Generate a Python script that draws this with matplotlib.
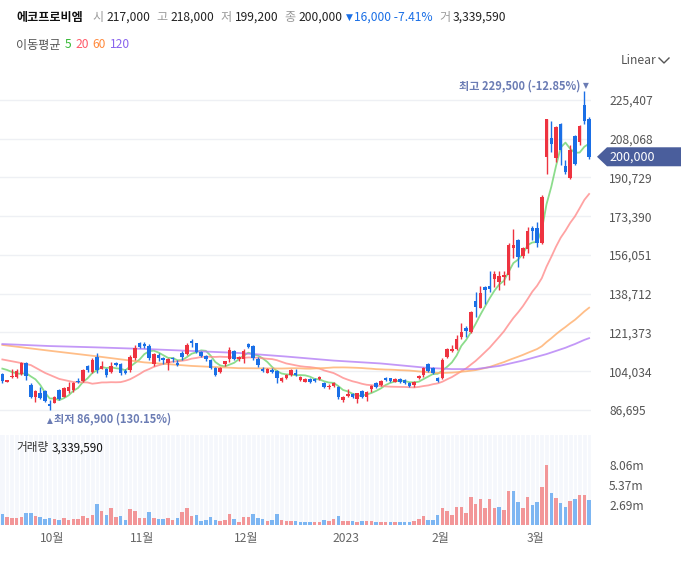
import numpy as np
import pandas as pd
import matplotlib
matplotlib.use("Agg")
import matplotlib.pyplot as plt
from matplotlib.patches import Polygon
from matplotlib.lines import Line2D

plt.rcParams['font.family'] = ['Noto Sans CJK KR', 'DejaVu Sans']

## Data (daily candles)
NAME = "에코프로비엠"

opens = [
    102700, 99400, 101300, 101600, 102800, 107600, 97900, 92600, 94400, 95200,
    89200, 90000, 95600, 92600, 95200, 95600, 99800, 99800, 106400, 103800,
    110300, 105200, 104900, 103800, 107900, 107100, 104300, 104600, 109800, 116500,
    116200, 115300, 107100, 111300, 109800, 107900, 109900, 107600, 112100, 111800,
    117600, 116500, 112600, 111000, 109100, 105300, 103800, 107100, 109400, 113100,
    109400, 109400, 116200, 115300, 109700, 105000, 103400, 104600, 104300, 99800,
    101100, 102300, 103400, 100100, 99400, 100600, 100500, 100400, 98900, 96800,
    97400, 97100, 91200, 93000, 93700, 91500, 95300, 92400, 95900, 98900,
    97900, 100900, 100900, 99400, 100600, 100100, 98900, 97900, 100900, 102300,
    107300, 105300, 100900, 101100, 110500, 113200, 114000, 119200, 123500, 121700,
    135500, 132500, 141900, 142200, 145200, 144100, 146200, 147100, 159300, 162800,
    155400, 158700, 168100, 168100, 161300, 199800, 208300, 199300, 214700, 195900,
    190400, 209300, 206500, 223200, 217000,
]
highs = [
    103400, 100300, 104900, 104900, 108300, 108000, 98600, 95600, 97100, 95600,
    91200, 93000, 96100, 96800, 99100, 99100, 100900, 105000, 107000, 109800,
    112100, 108800, 105300, 108300, 108300, 107900, 104900, 111300, 115800, 117200,
    117200, 116200, 112300, 112300, 110500, 109800, 110300, 109100, 113100, 116500,
    118500, 116800, 113300, 111300, 109400, 105800, 105800, 108800, 114700, 113500,
    110900, 113900, 116800, 115800, 110400, 105800, 105500, 105300, 104600, 101600,
    102700, 105000, 104900, 101900, 100800, 101200, 101200, 101900, 99400, 98200,
    99100, 97400, 93000, 95900, 94300, 94400, 95600, 95200, 97900, 99400,
    100100, 101300, 101200, 100900, 101000, 100600, 99400, 99800, 102300, 105800,
    107600, 106100, 101600, 109800, 114300, 115800, 120200, 125800, 124300, 131100,
    139400, 142200, 142200, 148900, 149000, 149000, 149000, 161300, 167700, 163100,
    159800, 168700, 169000, 170800, 182900, 217100, 216000, 213600, 215300, 198600,
    205300, 209800, 214000, 229500, 218000,
]
lows = [
    98900, 99200, 100900, 100900, 102300, 100100, 91900, 90400, 91500, 90400,
    86900, 89700, 91200, 92300, 94200, 94900, 98600, 99400, 103800, 103100,
    103100, 104900, 101600, 103400, 106500, 102300, 102800, 103800, 109100, 114300,
    114600, 109100, 106500, 108800, 107300, 104600, 108200, 106400, 109100, 111300,
    115000, 112300, 110400, 108800, 104900, 101900, 103100, 106400, 108300, 109100,
    108800, 107600, 114300, 109100, 106100, 103800, 103100, 103100, 98900, 99400,
    100400, 102000, 101900, 99700, 99000, 98900, 99000, 100100, 96700, 96100,
    96800, 91500, 90400, 92600, 91900, 90000, 92200, 90900, 94900, 96400,
    97600, 99700, 99400, 99100, 98900, 98200, 97100, 97100, 100400, 101300,
    103800, 102700, 99400, 100600, 110100, 112500, 113500, 118300, 119500, 121300,
    128400, 132200, 134100, 139400, 141600, 140400, 142600, 144900, 154600, 150500,
    154600, 156900, 162800, 159600, 160800, 192200, 202300, 197800, 196300, 192200,
    189900, 196300, 205300, 214500, 199200,
]
closes = [
    99700, 100100, 102000, 104300, 107900, 101900, 92600, 95300, 91900, 90900,
    88500, 92500, 91600, 96400, 97100, 98600, 99100, 104600, 104800, 109100,
    104600, 106500, 102300, 106400, 107000, 103400, 103200, 110500, 114300, 115000,
    115300, 109800, 111800, 110100, 109100, 109300, 109500, 106700, 110500, 115800,
    116800, 112800, 111000, 109400, 105300, 102300, 105300, 108500, 113500, 109500,
    110500, 113200, 115000, 109800, 106800, 104300, 105000, 103800, 100900, 101100,
    102300, 104600, 102300, 101300, 100400, 99400, 99500, 101300, 97100, 97600,
    98600, 92400, 92500, 93900, 92400, 94200, 92600, 94900, 97400, 97100,
    99800, 100100, 99800, 100400, 99400, 98600, 97400, 99400, 101900, 105300,
    104300, 103100, 99800, 109100, 113900, 114000, 118500, 121500, 122200, 130700,
    132900, 138900, 140400, 140800, 147500, 146700, 147100, 160500, 160400, 155300,
    159100, 166900, 166600, 161400, 182100, 216800, 205600, 213200, 203000, 193100,
    203000, 196600, 213800, 216000, 200000,
]
volumes = [
    1430000, 1080000, 940000, 940000, 1080000, 1610000, 1610000, 1210000, 1080000, 810000,
    940000, 810000, 670000, 940000, 670000, 810000, 810000, 1210000, 940000, 1340000,
    2820000, 1880000, 1340000, 2280000, 1080000, 1210000, 670000, 2150000, 1880000, 940000,
    940000, 1750000, 940000, 810000, 810000, 940000, 670000, 940000, 1750000, 2280000,
    1210000, 1340000, 540000, 670000, 1080000, 670000, 540000, 670000, 1480000, 810000,
    400000, 1080000, 1080000, 1480000, 940000, 810000, 540000, 670000, 1480000, 670000,
    540000, 540000, 540000, 400000, 450000, 400000, 400000, 400000, 720000, 550000,
    850000, 1250000, 500000, 600000, 550000, 450000, 500000, 500000, 550000, 450000,
    450000, 400000, 400000, 400000, 400000, 400000, 450000, 500000, 750000, 1160000,
    720000, 630000, 1300000, 2240000, 1840000, 1390000, 2370000, 2370000, 1570000, 3810000,
    2780000, 3450000, 2240000, 3450000, 2240000, 2460000, 1970000, 4520000, 4520000, 3090000,
    2240000, 3720000, 2640000, 3050000, 5060000, 8060000, 4350000, 3580000, 2910000, 2370000,
    3270000, 3450000, 3990000, 3990000, 3339590,
]

# first trading day of each month shown on the axis
month_start = [10, 29, 51, 72, 92, 112]
month_labels = ["10월", "11월", "12월", "2023", "2월", "3월"]

price_ticks = [86695, 104034, 121373, 138712, 156051, 173390, 190729, 208068, 225407]

# moving-average values before the window is full
ma5_head_idx = [0, 1, 2, 3]
ma5_head = [105200, 104600, 103700, 103100]
ma20_head_idx = [0, 3, 6, 9, 12, 15, 18]
ma20_head = [109300, 108100, 106800, 103300, 100600, 99200, 99000]
ma60_head_idx = [0, 10, 20, 30, 40, 50]
ma60_head = [115800, 113200, 110700, 108000, 106400, 105400]
ma120_head_idx = [0, 10, 20, 30, 40, 50, 60, 70, 80, 90, 95, 100, 105, 110, 115]
ma120_head = [116200, 115300, 114700, 114000, 113100, 112200, 110600, 108800,
              107500, 105500, 105000, 105000, 106400, 108800, 111700]

## Styles
UP, DOWN = '#ee3340', '#1a6fe6'
VOL_UP, VOL_DOWN = '#f29698', '#7db6f2'
MARK = '#6b7cb4'
MA_STYLE = [(5, '#6fd46f', '#35b935'), (20, '#ff8c8c', '#ff5a6a'),
            (60, '#ffae6b', '#ff8a3d'), (120, '#b47ff6', '#8a64ee')]

W, H = 688, 570
n = len(closes)
idx = np.arange(n)
close_s = pd.Series(closes, dtype=float)


def px_box(left, top, right, bottom):
    return [left / W, 1 - bottom / H, (right - left) / W, (bottom - top) / H]


def moving_average(window, head_idx, head_val):
    full = close_s.rolling(window).mean()
    xs = list(head_idx) + list(range(window - 1, n))
    ys = list(head_val) + list(full.iloc[window - 1:])
    return xs, ys


fig = plt.figure(figsize=(W / 100, H / 100), dpi=100)
ax = fig.add_axes(px_box(0, 68, 591, 430))
axv = fig.add_axes(px_box(0, 435, 591, 525), sharex=ax)

# -------- price panel --------
heads = {5: (ma5_head_idx, ma5_head), 20: (ma20_head_idx, ma20_head),
         60: (ma60_head_idx, ma60_head), 120: (ma120_head_idx, ma120_head)}
for window, line_color, _ in MA_STYLE:
    xs, ys = moving_average(window, *heads[window])
    ax.plot(xs, ys, color=line_color, lw=1.3, alpha=0.8, zorder=2)

o = np.array(opens)
c = np.array(closes)
up = c >= o
colors = np.where(up, UP, DOWN)
ax.vlines(idx, lows, highs, colors=colors, lw=1, zorder=3)
body_low = np.minimum(o, c)
body_h = np.maximum(np.abs(c - o), 450)
ax.bar(idx, body_h, bottom=body_low, width=0.74, color=colors, zorder=4)

ax.set_xlim(-0.5, n - 0.6)
ax.set_ylim(77732, 239727)
ax.yaxis.tick_right()
ax.set_yticks(price_ticks)
ax.set_yticklabels([f"{v:,}" for v in price_ticks])
ax.tick_params(axis='y', length=0, pad=13, labelsize=8.7, labelcolor='#555555')
ax.tick_params(axis='x', bottom=False, labelbottom=False)
ax.grid(axis='y', color='#eef0f4', lw=1)
ax.set_axisbelow(True)
for s in ax.spines.values():
    s.set_visible(False)

# high / low markers (small triangles drawn in DejaVu)
hi_i = int(np.argmax(highs))
lo_i = int(np.argmin(lows))
last = closes[-1]
ax.annotate("▼", xy=(hi_i, highs[hi_i]), xytext=(0.8, 0.5), textcoords='offset points',
            ha='center', va='bottom', fontsize=5.5, color=MARK, family='DejaVu Sans')
ax.annotate(f"최고 {highs[hi_i]:,} ({(last / highs[hi_i] - 1) * 100:.2f}%)",
            xy=(hi_i, highs[hi_i]), xytext=(-2.5, -1), textcoords='offset points',
            ha='right', va='bottom', fontsize=8, color=MARK, fontweight='bold')
ax.annotate("▲", xy=(lo_i, lows[lo_i]), xytext=(0, -4.5), textcoords='offset points',
            ha='center', va='top', fontsize=5.5, color=MARK, family='DejaVu Sans')
ax.annotate(f"최저 {lows[lo_i]:,} ({(last / lows[lo_i] - 1) * 100:.2f}%)",
            xy=(lo_i, lows[lo_i]), xytext=(2.8, -2.2), textcoords='offset points',
            ha='left', va='top', fontsize=8, color=MARK, fontweight='bold')

# -------- volume panel --------
prev = np.r_[closes[0], closes[:-1]]
vol_up = np.where(idx == 0, up, c >= prev)
axv.set_facecolor('#f5f7fc')
for i in range(n):
    axv.axvline(i + 0.5, color='white', lw=0.9, zorder=1)
axv.bar(idx, volumes, width=0.74, color=np.where(vol_up, VOL_UP, VOL_DOWN), zorder=2)
vmax = max(volumes)
axv.set_ylim(0, vmax * 1.5)
vt = [vmax / 3, vmax * 2 / 3, vmax]
axv.yaxis.tick_right()
axv.set_yticks(vt)
axv.set_yticklabels([f"{v / 1e6:.2f}m" for v in vt])
axv.tick_params(axis='y', length=0, pad=13, labelsize=8.7, labelcolor='#555555')
axv.set_xticks([m + 0.6 for m in month_start])
axv.set_xticklabels(month_labels)
axv.tick_params(axis='x', length=0, pad=5, labelsize=8.7, labelcolor='#666666')
for s in axv.spines.values():
    s.set_visible(False)

# -------- header texts --------
renderer = fig.canvas.get_renderer()


def draw_run(x, y, pieces, size=8.7):
    for text, color, weight, gap, *extra in pieces:
        kw = extra[0] if extra else {}
        kw.setdefault('fontsize', size)
        t = fig.text(x / W, 1 - y / H, text, color=color, fontweight=weight,
                     ha='left', va='center', **kw)
        x = t.get_window_extent(renderer=renderer).x1 + gap


change = closes[-1] - closes[-2]
pct = change / closes[-2] * 100
arrow = '▼' if change < 0 else '▲'
chg_color = DOWN if change < 0 else UP
draw_run(16, 17, [
    (NAME, '#111111', 'bold', 10),
    ('시', '#9a9a9a', 'normal', 3), (f"{opens[-1]:,}", '#222222', 'normal', 6),
    ('고', '#9a9a9a', 'normal', 3), (f"{highs[-1]:,}", '#222222', 'normal', 6),
    ('저', '#9a9a9a', 'normal', 3), (f"{lows[-1]:,}", '#222222', 'normal', 6),
    ('종', '#9a9a9a', 'normal', 3), (f"{closes[-1]:,}", '#222222', 'normal', 3),
    (arrow, chg_color, 'normal', 2, {'fontsize': 6.5, 'family': 'DejaVu Sans'}),
    (f"{abs(change):,} {pct:.2f}%", chg_color, 'normal', 6),
    ('거', '#9a9a9a', 'normal', 3), (f"{volumes[-1]:,}", '#222222', 'normal', 0),
])
draw_run(16, 45, [('이동평균', '#555555', 'normal', 4)] +
         [(str(w), tc, 'normal', 4) for w, _, tc in MA_STYLE])
draw_run(16, 448, [('거래량', '#333333', 'normal', 3),
                   (f"{volumes[-1]:,}", '#111111', 'normal', 0)], size=8.4)

fig.text(621 / W, 1 - 60 / H, "Linear", color='#555555', fontsize=8.7, ha='left', va='center')
fig.add_artist(Line2D([659 / W, 664 / W, 669 / W], [1 - 58 / H, 1 - 63 / H, 1 - 58 / H],
                      color='#555555', lw=1))

# last price tag
y_disp = ax.transData.transform((0, last))[1]
yc = y_disp / fig.bbox.height
hh = 9.5 / H
tag = Polygon([(597 / W, yc), (607 / W, yc + hh), (681 / W, yc + hh),
               (681 / W, yc - hh), (607 / W, yc - hh)],
              closed=True, transform=fig.transFigure, facecolor='#4a5e9c', edgecolor='none')
fig.add_artist(tag)
fig.text(609 / W, yc, f"{last:,}", color='white', fontsize=9, ha='left', va='center')

fig.savefig("out.png", dpi=100)
